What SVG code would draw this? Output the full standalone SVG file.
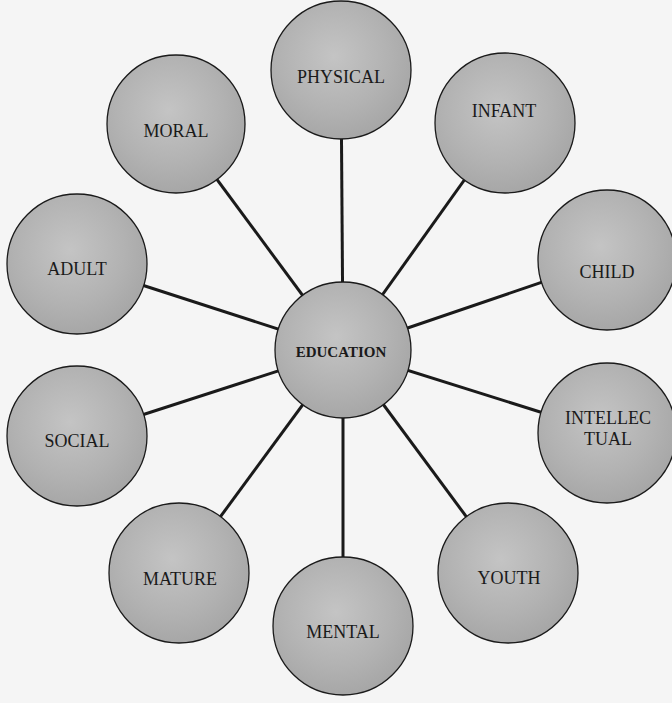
<svg xmlns="http://www.w3.org/2000/svg" width="672" height="703" viewBox="0 0 672 703">
  <style>
    .node { fill: url(#g); stroke: #1a1a1a; stroke-width: 1.3; }
    .lbl { font-family: "Liberation Serif", "Times New Roman", serif; font-size: 18px; fill: #1a1a1a; text-anchor: middle; }
    .main { font-weight: bold; font-size: 15px; }
    .conn line { stroke: #1a1a1a; stroke-width: 3; }
  </style>
  <defs>
    <radialGradient id="g" cx="0.45" cy="0.4" r="0.65">
      <stop offset="0" stop-color="#c4c4c4"/>
      <stop offset="0.6" stop-color="#b2b2b2"/>
      <stop offset="1" stop-color="#a4a4a4"/>
    </radialGradient>
  </defs>
  <rect width="672" height="703" fill="#f5f5f5"/>
  <g id="connectors" class="conn">
    <line x1="343" y1="350" x2="341" y2="70"/>
    <line x1="343" y1="350" x2="176" y2="124"/>
    <line x1="343" y1="350" x2="505" y2="123"/>
    <line x1="343" y1="350" x2="607" y2="260"/>
    <line x1="343" y1="350" x2="77" y2="264"/>
    <line x1="343" y1="350" x2="77" y2="436"/>
    <line x1="343" y1="350" x2="607" y2="433"/>
    <line x1="343" y1="350" x2="179" y2="573"/>
    <line x1="343" y1="350" x2="343" y2="626"/>
    <line x1="343" y1="350" x2="508" y2="573"/>
  </g>
  <g id="physical"><ellipse class="node" cx="341" cy="70" rx="70" ry="69"/><text class="lbl" x="341" y="83">PHYSICAL</text></g>
  <g id="moral"><ellipse class="node" cx="176" cy="124" rx="69" ry="69"/><text class="lbl" x="176" y="137">MORAL</text></g>
  <g id="infant"><ellipse class="node" cx="505" cy="123" rx="70" ry="70"/><text class="lbl" x="504" y="117">INFANT</text></g>
  <g id="child"><ellipse class="node" cx="607" cy="260" rx="69" ry="70"/><text class="lbl" x="607" y="278">CHILD</text></g>
  <g id="adult"><ellipse class="node" cx="77" cy="264" rx="70" ry="70"/><text class="lbl" x="77" y="275">ADULT</text></g>
  <g id="social"><ellipse class="node" cx="77" cy="436" rx="70" ry="70"/><text class="lbl" x="77" y="447">SOCIAL</text></g>
  <g id="intellectual"><ellipse class="node" cx="607" cy="433" rx="69" ry="70"/><text class="lbl" x="608" y="424">INTELLEC</text><text class="lbl" x="608" y="445">TUAL</text></g>
  <g id="mature"><ellipse class="node" cx="179" cy="573" rx="70" ry="70"/><text class="lbl" x="180" y="585">MATURE</text></g>
  <g id="mental"><ellipse class="node" cx="343" cy="626" rx="70" ry="69"/><text class="lbl" x="343" y="638">MENTAL</text></g>
  <g id="youth"><ellipse class="node" cx="508" cy="573" rx="70" ry="70"/><text class="lbl" x="509" y="584">YOUTH</text></g>
  <g id="education"><ellipse class="node" cx="343" cy="350" rx="68" ry="68"/><text class="lbl main" x="341" y="357">EDUCATION</text></g>
</svg>
